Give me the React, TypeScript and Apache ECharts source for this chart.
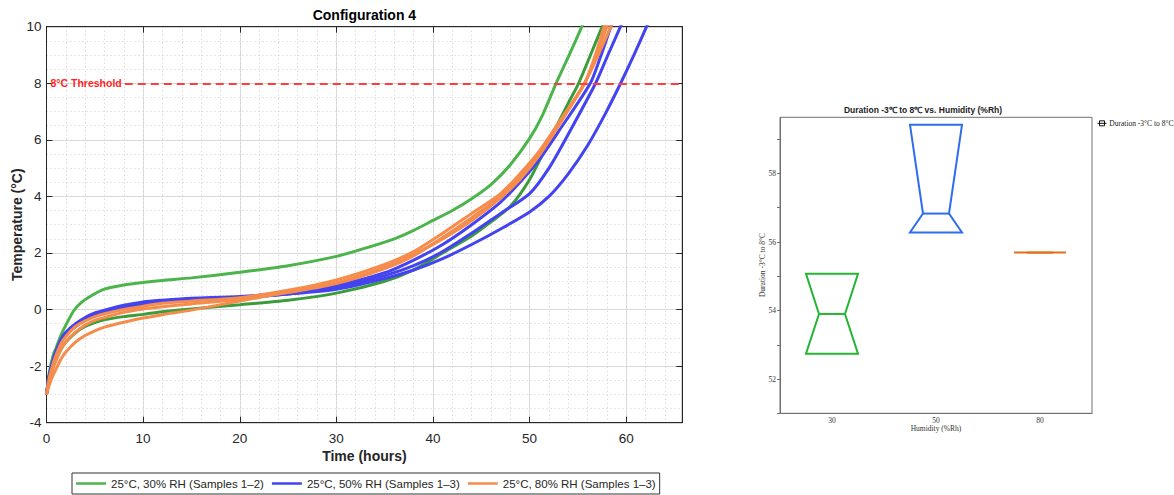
import React, { useEffect, useRef } from "react";
import * as echarts from "echarts";

// Temperature curves: [hours, °C]
const rh30Sample1: [number, number][] = [
  [0, -3], [0.3, -2.2], [0.7, -1.6], [1, -1.35], [1.5, -0.9], [2, -0.55], [2.8, -0.05], [3.5, 0.22],
  [4.5, 0.46], [6, 0.72], [8, 0.87], [10, 0.96], [12, 1.03], [15, 1.12], [20, 1.32], [25, 1.55],
  [30, 1.88], [33, 2.17], [36, 2.5], [38, 2.8], [40, 3.15], [42, 3.5], [44, 3.92], [46, 4.42],
  [48, 5.12], [50, 6.05], [51.3, 6.85], [52.74, 8], [54.1, 9], [55.4, 10], [55.9, 10.4],
];
const rh30Sample2: [number, number][] = [
  [0, -3], [0.3, -2.5], [0.7, -2.0], [1, -1.75], [1.5, -1.4], [2, -1.15], [3, -0.82], [4, -0.6],
  [5, -0.46], [6, -0.36], [8, -0.25], [10, -0.17], [12, -0.08], [15, 0.02], [20, 0.17], [25, 0.33],
  [30, 0.58], [35, 1.0], [38, 1.4], [41, 2.0], [44, 2.6], [46, 3.1], [48, 3.65], [50, 4.6],
  [52, 5.95], [54, 7.3], [55.07, 8], [56.3, 9], [57.5, 10], [58, 10.4],
];
const rh50Sample1: [number, number][] = [
  [0, -3], [0.3, -2.3], [0.7, -1.75], [1, -1.45], [1.5, -1.05], [2, -0.8], [3, -0.5], [4, -0.28],
  [5, -0.12], [6, -0.02], [8, 0.15], [10, 0.27], [12, 0.33], [15, 0.4], [20, 0.46], [25, 0.6],
  [30, 0.85], [35, 1.3], [38, 1.75], [41, 2.3], [44, 3.0], [47, 3.8], [49, 4.5], [51, 5.3],
  [53, 6.3], [56.28, 8], [57.4, 9], [58.4, 10], [58.8, 10.4],
];
const rh50Sample2: [number, number][] = [
  [0, -3], [0.3, -2.35], [0.7, -1.85], [1, -1.55], [1.5, -1.15], [2, -0.9], [3, -0.6], [4, -0.38],
  [5, -0.22], [6, -0.1], [8, 0.06], [10, 0.18], [12, 0.25], [15, 0.33], [20, 0.42], [25, 0.55],
  [30, 0.78], [35, 1.2], [38, 1.55], [41, 2.05], [44, 2.7], [47, 3.4], [50, 4.1], [52, 5.0],
  [54, 6.2], [56.83, 8], [58.1, 9], [59.4, 10], [59.9, 10.4],
];
const rh50Sample3: [number, number][] = [
  [0, -3], [0.3, -2.3], [0.7, -1.8], [1, -1.5], [1.5, -1.1], [2, -0.85], [3, -0.55], [4, -0.32],
  [5, -0.17], [6, -0.06], [8, 0.1], [10, 0.22], [12, 0.3], [15, 0.37], [20, 0.43], [25, 0.55],
  [30, 0.72], [35, 1.1], [38, 1.4], [41, 1.8], [44, 2.3], [47, 2.85], [50, 3.45], [52, 4.0],
  [54, 4.8], [56, 5.8], [57.8, 6.9], [59.42, 8], [60.8, 9], [62.1, 10], [62.5, 10.3],
];
const rh80Sample1: [number, number][] = [
  [0, -3], [0.3, -2.4], [0.7, -1.9], [1, -1.6], [1.5, -1.2], [2, -0.95], [3, -0.6], [4, -0.4],
  [5, -0.25], [6, -0.15], [8, 0.0], [10, 0.12], [12, 0.22], [15, 0.3], [20, 0.42], [25, 0.68],
  [30, 1.05], [35, 1.6], [38, 2.05], [41, 2.7], [44, 3.4], [47, 4.1], [49, 4.8], [51, 5.6],
  [53, 6.6], [55.69, 8], [56.8, 9], [57.7, 10], [58.1, 10.4],
];
const rh80Sample2: [number, number][] = [
  [0, -3], [0.3, -2.5], [0.7, -2.05], [1, -1.8], [1.5, -1.4], [2, -1.15], [3, -0.8], [4, -0.55],
  [5, -0.38], [6, -0.28], [8, -0.1], [10, 0.02], [12, 0.1], [15, 0.2], [20, 0.36], [25, 0.6],
  [30, 0.92], [35, 1.45], [38, 1.9], [41, 2.55], [44, 3.25], [47, 4.0], [49, 4.7], [51, 5.5],
  [53, 6.55], [55.69, 8], [56.9, 9], [58.0, 10], [58.4, 10.4],
];
const rh80Sample3: [number, number][] = [
  [0, -3], [0.3, -2.65], [0.7, -2.3], [1, -2.1], [1.5, -1.75], [2, -1.5], [3, -1.15], [4, -0.92],
  [5, -0.75], [6, -0.62], [8, -0.45], [10, -0.3], [12, -0.18], [15, -0.02], [20, 0.3], [25, 0.62],
  [30, 0.95], [35, 1.5], [38, 1.95], [41, 2.5], [44, 3.15], [47, 3.95], [49, 4.6], [51, 5.45],
  [53, 6.5], [55.69, 8], [57.1, 9], [58.4, 10], [58.8, 10.4],
];

const seriesNames = [
  "25°C, 30% RH (Samples 1–2)",
  "25°C, 50% RH (Samples 1–3)",
  "25°C, 80% RH (Samples 1–3)",
];
const thresholdTemp = 8;

// Duration -3°C to 8°C box summary per humidity
const humidityCats = ["30", "50", "80"];
const boxQ1 = [52.74, 56.28, 55.69];
const boxMedian = [53.9, 56.83, 55.69];
const boxQ3 = [55.07, 59.42, 55.69];
const boxColors = ["#22b633", "#2f6cf0", "#e2701a"];

const SANS = "'Liberation Sans', Arial, Helvetica, sans-serif";
const SERIF = "'Liberation Serif', 'Times New Roman', serif";
const AXIS_DARK = "#262626";

function lineSeries(name: string, data: [number, number][], color: string, withThreshold = false) {
  const s: any = {
    type: "line",
    name,
    data,
    xAxisIndex: 0,
    yAxisIndex: 0,
    showSymbol: false,
    symbol: "none",
    smooth: 0.25,
    clip: true,
    lineStyle: { width: 3, color },
    itemStyle: { color },
  };
  if (withThreshold) {
    s.markLine = {
      silent: true,
      symbol: ["none", "none"],
      lineStyle: { color: "#ff3d3d", width: 2, type: [8, 5] },
      label: {
        show: true,
        position: "start",
        formatter: "8°C Threshold",
        color: "#ff1f1f",
        fontWeight: "bold",
        fontSize: 10.5,
        fontFamily: SANS,
        distance: 3,
      },
      data: [[{ coord: [8.1, thresholdTemp] }, { coord: [65.8, thresholdTemp] }]],
    };
  }
  return s;
}

export default function App() {
  const ref = useRef<HTMLDivElement>(null);

  useEffect(() => {
    if (!ref.current) return;
    const chart = echarts.init(ref.current, undefined, { renderer: "svg" });

    const option: any = {
      animation: false,
      textStyle: { fontFamily: SANS },
      grid: [
        { left: 46.5, right: 491.7, top: 26.7, bottom: 72.3, show: true, borderColor: AXIS_DARK, borderWidth: 1 },
        { left: 780, right: 82, top: 117.3, bottom: 81.7, show: true, borderColor: "#707070", borderWidth: 1 },
      ],
      xAxis: [
        {
          type: "value", gridIndex: 0, min: 0, max: 65.8, interval: 10, position: "bottom",
          axisLine: { show: true, onZero: false, lineStyle: { color: AXIS_DARK } },
          axisTick: { show: true, inside: true, length: 6, lineStyle: { color: AXIS_DARK } },
          axisLabel: { show: true, margin: 9, fontSize: 13.5, color: AXIS_DARK, showMaxLabel: false },
          splitLine: { show: true, lineStyle: { color: "#dedede", width: 1 } },
        },
        {
          type: "value", gridIndex: 0, min: 0, max: 65.8, interval: 10, position: "top",
          axisLine: { show: true, onZero: false, lineStyle: { color: AXIS_DARK } },
          axisTick: { show: true, inside: true, length: 6, lineStyle: { color: AXIS_DARK } },
          axisLabel: { show: false },
          splitLine: { show: false },
        },
        {
          type: "value", gridIndex: 0, min: 0, max: 65.8, interval: 2, position: "bottom",
          axisLine: { show: false }, axisTick: { show: false }, axisLabel: { show: false },
          splitLine: { show: true, lineStyle: { color: "#cdcdcd", width: 1, type: [1, 3] } },
        },
        {
          type: "category", gridIndex: 1, data: humidityCats, boundaryGap: true,
          axisLine: { show: true, lineStyle: { color: "#707070" } },
          axisTick: { show: false },
          axisLabel: { fontFamily: SERIF, fontSize: 7.5, color: "#333", margin: 3 },
          splitLine: { show: false },
        },
      ],
      yAxis: [
        {
          type: "value", gridIndex: 0, min: -4, max: 10, interval: 2, position: "left",
          axisLine: { show: true, onZero: false, lineStyle: { color: AXIS_DARK } },
          axisTick: { show: true, inside: true, length: 6, lineStyle: { color: AXIS_DARK } },
          axisLabel: { show: true, margin: 5, fontSize: 13.5, color: AXIS_DARK },
          splitLine: { show: true, lineStyle: { color: "#dedede", width: 1 } },
        },
        {
          type: "value", gridIndex: 0, min: -4, max: 10, interval: 2, position: "right",
          axisLine: { show: true, onZero: false, lineStyle: { color: AXIS_DARK } },
          axisTick: { show: true, inside: true, length: 6, lineStyle: { color: AXIS_DARK } },
          axisLabel: { show: false },
          splitLine: { show: false },
        },
        {
          type: "value", gridIndex: 0, min: -4, max: 10, interval: 0.5, position: "left",
          axisLine: { show: false }, axisTick: { show: false }, axisLabel: { show: false },
          splitLine: { show: true, lineStyle: { color: "#cdcdcd", width: 1, type: [1, 3] } },
        },
        {
          type: "value", gridIndex: 1, min: 51, max: 59.64, interval: 1, position: "left",
          axisLine: { show: true, onZero: false, lineStyle: { color: "#707070" } },
          axisTick: { show: true, inside: false, length: 3, lineStyle: { color: "#707070" } },
          axisLabel: {
            fontFamily: SERIF, fontSize: 7.5, color: "#333", margin: 4, showMaxLabel: false,
            formatter: (v: number) => (Number.isInteger(v) && v % 2 === 0 ? String(v) : ""),
          },
          splitLine: { show: false },
        },
      ],
      legend: {
        data: seriesNames,
        left: 72,
        top: 473,
        orient: "horizontal",
        icon: "rect",
        padding: [4, 4, 4, 4],
        itemGap: 8,
        itemWidth: 30,
        itemHeight: 2.5,
        borderColor: "#333",
        borderWidth: 1,
        backgroundColor: "#fff",
        textStyle: { fontSize: 11.5, color: AXIS_DARK, fontFamily: SANS, lineHeight: 13 },
      },
      series: [
        lineSeries(seriesNames[0], rh30Sample1, "#4cb44c", true),
        lineSeries(seriesNames[0], rh30Sample2, "#3c9c3c"),
        lineSeries(seriesNames[1], rh50Sample1, "#4343f2"),
        lineSeries(seriesNames[1], rh50Sample2, "#4343f2"),
        lineSeries(seriesNames[1], rh50Sample3, "#4343f2"),
        lineSeries(seriesNames[2], rh80Sample1, "#f58c4c"),
        lineSeries(seriesNames[2], rh80Sample2, "#f58c4c"),
        lineSeries(seriesNames[2], rh80Sample3, "#f58c4c"),
        {
          type: "custom",
          name: "Duration -3°C to 8°C",
          xAxisIndex: 3,
          yAxisIndex: 3,
          encode: { x: 0, y: [1, 2, 3] },
          data: humidityCats.map((_, i) => [i, boxQ1[i], boxMedian[i], boxQ3[i]]),
          renderItem: (params: any, api: any) => {
            const idx = api.value(0);
            const pTop = api.coord([idx, api.value(3)]);
            const pMed = api.coord([idx, api.value(2)]);
            const pBot = api.coord([idx, api.value(1)]);
            const band = api.size([1, 0])[0];
            const w = band * 0.25;
            const cx = pTop[0];
            const color = boxColors[idx];
            return {
              type: "group",
              children: [
                {
                  type: "polygon",
                  shape: {
                    points: [
                      [cx - w, pTop[1]], [cx + w, pTop[1]], [cx + w / 2, pMed[1]],
                      [cx + w, pBot[1]], [cx - w, pBot[1]], [cx - w / 2, pMed[1]],
                    ],
                  },
                  style: { fill: "none", stroke: color, lineWidth: 2 },
                },
                {
                  type: "line",
                  shape: { x1: cx - w / 2, y1: pMed[1], x2: cx + w / 2, y2: pMed[1] },
                  style: { stroke: color, lineWidth: 2 },
                },
              ],
            };
          },
        },
      ],
      graphic: [
        {
          type: "text", x: 364.4, y: 15,
          style: { text: "Configuration 4", font: `bold 14px ${SANS}`, fill: "#000", textAlign: "center", textVerticalAlign: "middle" },
        },
        {
          type: "text", x: 17, y: 224.7, rotation: Math.PI / 2,
          style: { text: "Temperature (°C)", font: `bold 14px ${SANS}`, fill: AXIS_DARK, textAlign: "center", textVerticalAlign: "middle" },
        },
        {
          type: "text", x: 364.4, y: 456,
          style: { text: "Time (hours)", font: `bold 14px ${SANS}`, fill: AXIS_DARK, textAlign: "center", textVerticalAlign: "middle" },
        },
        {
          type: "text", x: 923, y: 110,
          style: { text: "Duration -3℃ to 8℃ vs. Humidity (%Rh)", font: `bold 8.5px ${SANS}`, fill: "#222", textAlign: "center", textVerticalAlign: "middle" },
        },
        {
          type: "text", x: 762, y: 265, rotation: Math.PI / 2,
          style: { text: "Duration -3°C to 8°C", font: `7.5px ${SERIF}`, fill: "#333", textAlign: "center", textVerticalAlign: "middle" },
        },
        {
          type: "text", x: 936, y: 428.3,
          style: { text: "Humidity (%Rh)", font: `7.5px ${SERIF}`, fill: "#333", textAlign: "center", textVerticalAlign: "middle" },
        },
        {
          type: "rect", shape: { x: 1099.5, y: 120.8, width: 5, height: 5 },
          style: { fill: "none", stroke: "#111", lineWidth: 1 },
        },
        {
          type: "line", shape: { x1: 1097.5, y1: 123.3, x2: 1106.5, y2: 123.3 },
          style: { stroke: "#111", lineWidth: 1 },
        },
        {
          type: "text", x: 1109.3, y: 123.3,
          style: { text: "Duration -3°C to 8°C", font: `7.5px ${SERIF}`, fill: "#222", textAlign: "left", textVerticalAlign: "middle" },
        },
      ],
    };

    chart.setOption(option);
    return () => chart.dispose();
  }, []);

  return (
    <div
      ref={ref}
      style={{ position: "absolute", left: 0, top: 0, width: 1174, height: 495, background: "#fff" }}
    />
  );
}
